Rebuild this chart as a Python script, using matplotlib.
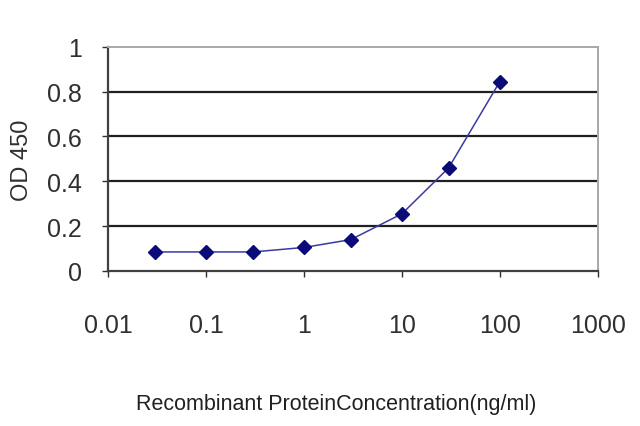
import matplotlib
matplotlib.use("Agg")
import matplotlib.pyplot as plt

# concentration (ng/ml) and OD 450 readings
conc = [0.03, 0.1, 0.3, 1, 3, 10, 30, 100]
od = [0.085, 0.085, 0.085, 0.105, 0.14, 0.255, 0.46, 0.845]

xticks = [0.01, 0.1, 1, 10, 100, 1000]
xtick_labels = ["0.01", "0.1", "1", "10", "100", "1000"]
yticks = [0, 0.2, 0.4, 0.6, 0.8, 1]
ytick_labels = ["0", "0.2", "0.4", "0.6", "0.8", "1"]

plt.rcParams["font.family"] = ["Liberation Sans", "DejaVu Sans"]

fig = plt.figure(figsize=(6.4, 4.27), dpi=100)
ax = fig.add_axes([0.169, 0.363, 0.765, 0.525])

for y in yticks[1:-1]:
    ax.axhline(y, color="#202020", linewidth=1.6, zorder=1)

ax.plot(conc, od, "-", color="#3a3aa0", linewidth=1.1, zorder=2)
ax.plot(conc, od, "D", color="#0a0a78", markersize=7, linestyle="none", zorder=3)

ax.set_xscale("log")
ax.set_xlim(0.01, 1000)
ax.set_ylim(0, 1)
ax.set_xticks(xticks)
ax.set_xticklabels(xtick_labels)
ax.minorticks_off()
ax.set_yticks(yticks)
ax.set_yticklabels(ytick_labels)

ax.tick_params(axis="both", labelsize=18, colors="#303030", length=4, width=1)
ax.tick_params(axis="x", pad=26)
ax.tick_params(axis="y", pad=15)

ax.spines["left"].set_color("#404040")
ax.spines["bottom"].set_color("#404040")
ax.spines["left"].set_linewidth(1.6)
ax.spines["bottom"].set_linewidth(1.6)
ax.spines["top"].set_color("#a8a8a8")
ax.spines["right"].set_color("#a8a8a8")
ax.spines["top"].set_linewidth(1.4)
ax.spines["right"].set_linewidth(1.4)

ax.set_ylabel("OD 450", fontsize=17, color="#303030", labelpad=10)
fig.text(0.525, 0.052, "Recombinant ProteinConcentration(ng/ml)", fontsize=15.5,
         color="#202020", ha="center", va="center")

fig.savefig("out.png", dpi=100)
